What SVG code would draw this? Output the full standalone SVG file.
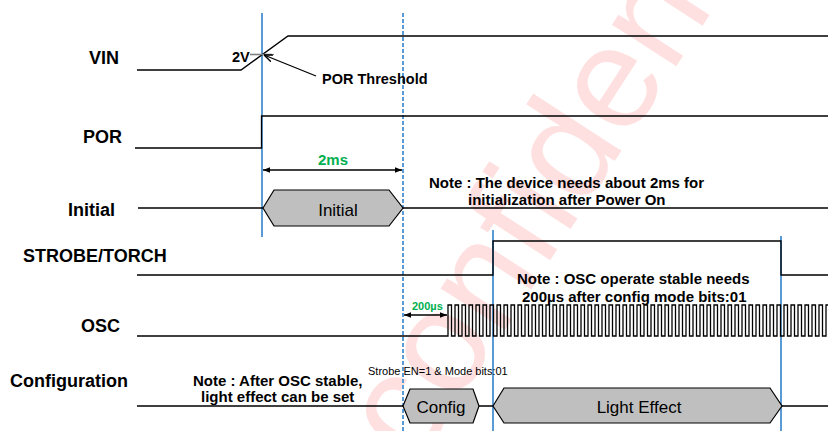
<svg xmlns="http://www.w3.org/2000/svg" width="828" height="431" viewBox="0 0 828 431">
<defs>
<marker id="ah" viewBox="0 0 10 10" refX="10" refY="5" markerWidth="7" markerHeight="7" orient="auto-start-reverse" markerUnits="userSpaceOnUse"><path d="M0,1 L10,5 L0,9 z" fill="#000"/></marker>
<marker id="ah2" viewBox="0 0 10 10" refX="10" refY="5" markerWidth="9" markerHeight="9" orient="auto" markerUnits="userSpaceOnUse"><path d="M0,1 L10,5 L0,9" fill="none" stroke="#000" stroke-width="1.6"/></marker>
</defs>
<style>
.lbl{font-family:"Liberation Sans",Arial,sans-serif;font-weight:bold;font-size:18px;fill:#000}
.note{font-family:"Liberation Sans",Arial,sans-serif;font-weight:bold;font-size:15px;fill:#000}
.wave{fill:none;stroke:#000;stroke-width:1.3}
.hex{fill:#BFBFBF;stroke:#000;stroke-width:1.2}
.htxt{font-family:"Liberation Sans",Arial,sans-serif;font-size:17px;fill:#000;text-anchor:middle}
.blue{stroke:#5B9BD5;stroke-width:2;fill:none}
.dash{stroke-dasharray:4 2}
.green{font-family:"Liberation Sans",Arial,sans-serif;fill:#00B050;font-weight:bold}
.small{font-family:"Liberation Sans",Arial,sans-serif;font-size:11px;fill:#000}
.wm{font-family:"Liberation Sans",Arial,sans-serif;font-size:145px;fill:#FF0000;fill-opacity:0.12}
</style>
<rect width="828" height="431" fill="#fff"/>
<text class="wm" transform="translate(416,467) rotate(-57)">confidential</text>

<g id="labels">
<text class="lbl" x="89" y="64">VIN</text>
<text class="lbl" x="83" y="143">POR</text>
<text class="lbl" x="68" y="216">Initial</text>
<text class="lbl" x="23" y="262">STROBE/TORCH</text>
<text class="lbl" x="81" y="332">OSC</text>
<text class="lbl" x="10" y="387">Configuration</text>
</g>

<g id="markers">
<line class="blue" x1="262" y1="13" x2="262" y2="237"/>
<line class="blue dash" x1="403" y1="13" x2="403" y2="431"/>
<line class="blue" x1="493" y1="230" x2="493" y2="431"/>
<line class="blue" x1="781" y1="236" x2="781" y2="431"/>
</g>

<g id="vin">
<path class="wave" d="M137,70 H241 L288,36 H828"/>
<line x1="250" y1="54.5" x2="272" y2="54.5" stroke="#808080" stroke-width="1.6"/>
<text class="note" style="font-size:14.5px" x="232" y="61.5">2V</text>
<text class="note" style="font-size:14.5px" x="322" y="84">POR Threshold</text>
</g>

<g id="por">
<path class="wave" d="M135,148 H261.5 V116 H828"/>
</g>

<g id="initial">
<path class="wave" d="M138,208 H263 M403,208 H828"/>
<polygon class="hex" points="263,208 274,190 389,190 403,208 389,226 274,226"/>
<text class="htxt" x="338" y="216">Initial</text>
</g>

<g id="note1">
<text class="note" x="429" y="188">Note : The device needs about 2ms for</text>
<text class="note" x="468" y="205">initialization after Power On</text>
</g>

<g id="strobe">
<path class="wave" d="M137,275 H493 V241 H781 V275 H828"/>
</g>

<g id="note2">
<text class="note" x="517" y="284">Note : OSC operate stable needs</text>
<text class="note" x="522" y="302">200µs after config mode bits:01</text>
</g>

<g id="osc">
<path class="wave" d="M137,336 H448 v-31h3.5v31h3.5v-31h3.5v31h3.5v-31h3.5v31h3.5v-31h3.5v31h3.5v-31h3.5v31h3.5v-31h3.5v31h3.5v-31h3.5v31h3.5v-31h3.5v31h3.5v-31h3.5v31h3.5v-31h3.5v31h3.5v-31h3.5v31h3.5v-31h3.5v31h3.5v-31h3.5v31h3.5v-31h3.5v31h3.5v-31h3.5v31h3.5v-31h3.5v31h3.5v-31h3.5v31h3.5v-31h3.5v31h3.5v-31h3.5v31h3.5v-31h3.5v31h3.5v-31h3.5v31h3.5v-31h3.5v31h3.5v-31h3.5v31h3.5v-31h3.5v31h3.5v-31h3.5v31h3.5v-31h3.5v31h3.5v-31h3.5v31h3.5v-31h3.5v31h3.5v-31h3.5v31h3.5v-31h3.5v31h3.5v-31h3.5v31h3.5v-31h3.5v31h3.5v-31h3.5v31h3.5v-31h3.5v31h3.5v-31h3.5v31h3.5v-31h3.5v31h3.5v-31h3.5v31h3.5v-31h3.5v31h3.5v-31h3.5v31h3.5v-31h3.5v31h3.5v-31h3.5v31h3.5v-31h3.5v31h3.5v-31h3.5v31h3.5v-31h3.5v31h3.5v-31h3.5v31h3.5v-31h3.5v31h3.5v-31h3.5v31h3.5v-31h3.5v31h3.5v-31h3.5v31h3.5v-31h3.5v31h3.5v-31h3.5v31h3.5v-31h3.5v31h3.5v-31h3.5v31h3.5v-31h3.5v31h3.5v-31h3.5v31h3.5v-31h3.5v31h3.5v-31h3.5v31h3.5v-31h3.5v31h3.5v-31h3.5v31h3.5"/>
</g>

<g id="config">
<path class="wave" d="M137,406 H403 M479,406 H493 M782,406 H828"/>
<polygon class="hex" points="403,406 410,389 473,389 479,406 473,423 410,423"/>
<text class="htxt" x="441" y="413">Config</text>
<polygon class="hex" points="493,406 504,388 770,388 782,406 770,423 504,423"/>
<text class="htxt" x="639" y="413">Light Effect</text>
<text class="small" x="368" y="375">Strobe EN=1 &amp; Mode bits:01</text>
</g>

<g id="note3">
<text class="note" x="193" y="386">Note : After OSC stable,</text>
<text class="note" x="201" y="402">light effect can be set</text>
</g>

<g id="connectors">
<line x1="316" y1="76" x2="264" y2="55" stroke="#000" stroke-width="1.3" marker-end="url(#ah2)"/>
<line x1="263" y1="170" x2="402" y2="170" stroke="#000" stroke-width="1.3" marker-start="url(#ah)" marker-end="url(#ah)"/>
<text class="green" style="font-size:15px" x="333" y="165" text-anchor="middle">2ms</text>
<line x1="404" y1="315" x2="447" y2="315" stroke="#000" stroke-width="1.3" marker-start="url(#ah)" marker-end="url(#ah)"/>
<text class="green" style="font-size:11px" x="412" y="310">200µs</text>
</g>
</svg>
